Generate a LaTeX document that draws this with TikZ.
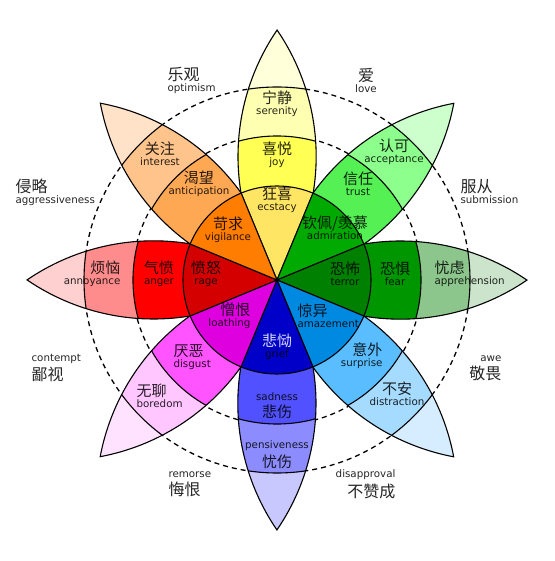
\documentclass[tikz,border=0pt]{standalone}
\usepackage{fontspec}
\setmainfont{DejaVu Sans}
\newfontfamily\zhfont{Noto Sans CJK SC}
\usepackage{tikz}
\usetikzlibrary{positioning}
% colours: tip, outer, middle, inner of each petal
\definecolor{joyA}{HTML}{FFFFD9}\definecolor{joyB}{HTML}{FFFFB1}
\definecolor{joyC}{HTML}{FFFF54}\definecolor{joyD}{HTML}{FFE564}
\definecolor{truA}{HTML}{CCFFCC}\definecolor{truB}{HTML}{8CFF8C}
\definecolor{truC}{HTML}{54F054}\definecolor{truD}{HTML}{00AA00}
\definecolor{feaA}{HTML}{CCE4CC}\definecolor{feaB}{HTML}{8CC68C}
\definecolor{feaC}{HTML}{009600}\definecolor{feaD}{HTML}{008000}
\definecolor{surA}{HTML}{D6EDFF}\definecolor{surB}{HTML}{A5DBFF}
\definecolor{surC}{HTML}{59BDFF}\definecolor{surD}{HTML}{0089E0}
\definecolor{sadA}{HTML}{C8C8FF}\definecolor{sadB}{HTML}{8C8CFF}
\definecolor{sadC}{HTML}{5151FF}\definecolor{sadD}{HTML}{0000C8}
\definecolor{disA}{HTML}{FFE2FF}\definecolor{disB}{HTML}{FFC6FF}
\definecolor{disC}{HTML}{FF54FF}\definecolor{disD}{HTML}{DE00DE}
\definecolor{angA}{HTML}{FFD0D0}\definecolor{angB}{HTML}{FF8C8C}
\definecolor{angC}{HTML}{FF0000}\definecolor{angD}{HTML}{D40000}
\definecolor{antA}{HTML}{FFE2C8}\definecolor{antB}{HTML}{FFC48C}
\definecolor{antC}{HTML}{FFA854}\definecolor{antD}{HTML}{FF7D00}
\tikzset{
  every picture/.style={line width=1.1pt},
  emo/.style={align=center, inner sep=0pt, text=black, text opacity=0.85,
              font=\fontsize{10.3}{11}\selectfont},
  emoL/.style={emo, align=left, anchor=west},
  emoR/.style={emo, align=right, anchor=east},
  mood/.style={inner sep=0pt, text=black!85, font=\fontsize{10.3}{11}\selectfont},
  ring/.style={dash pattern=on 5pt off 4pt, line width=1.3pt},
}
\newcommand{\zh}[1]{{\zhfont\fontsize{15}{15}\selectfont #1}}
\newcommand{\zhL}[1]{{\zhfont\fontsize{16}{16}\selectfont #1}}
% one petal, drawn upright and turned into place
\def\petalpath{(0,0) -- (112.5:94pt)
  arc[start angle=189.43, end angle=145.64, radius=224pt]
  arc[start angle=34.36, end angle=-9.43, radius=224pt] -- cycle}
\newcommand{\petal}[2]{%
  \begin{scope}[rotate=#1]
    \begin{scope}
      \clip \petalpath;
      \fill[#2A] (0,0) circle[radius=260pt];
      \fill[#2B] (0,0) circle[radius=193pt];
      \fill[#2C] (0,0) circle[radius=144pt];
      \fill[#2D] (0,0) circle[radius=94pt];
      \draw (0,0) circle[radius=193pt] (0,0) circle[radius=144pt]
            (0,0) circle[radius=94pt];
    \end{scope}
    \draw \petalpath;
  \end{scope}}

\begin{document}
\begin{tikzpicture}[x=1pt, y=1pt]
  \useasboundingbox (-277,-281) rectangle (277,280);
  \fill[white] (-277,-281) rectangle (277,280);
  \draw[ring] (0,0) circle[radius=145pt];
  \draw[ring] (0,0) circle[radius=193pt];

  \petal{0}{joy}
  \petal{-45}{tru}
  \petal{-90}{fea}
  \petal{-135}{sur}
  \petal{180}{sad}
  \petal{135}{dis}
  \petal{90}{ang}
  \petal{45}{ant}

  % joy
  \node[emo] (serenity) at (0,176) {\zh{宁静}\\serenity};
  \node[emo] (joy) at (0,125) {\zh{喜悦}\\joy};
  \node[emo] (ecstacy) at (0,80) {\zh{狂喜}\\ecstacy};
  % trust
  \node[emo] (acceptance) at (117,128) {\zh{认可}\\acceptance};
  \node[emo] (trust) at (81,96) {\zh{信任}\\trust};
  \node[emo] (admiration) at (58,52) {\zh{钦佩/羡慕}\\admiration};
  % fear
  \node[emo] (terror) at (68,6) {\zh{恐怖}\\terror};
  \node[emo] (fear) at (118,6) {\zh{恐惧}\\fear};
  \node[emoL] (apprehension) at (157,6) {\zh{忧虑}\\apprehension};
  % surprise
  \node[emoL] (amazement) at (20,-36) {\zh{惊异}\\amazement};
  \node[emoR] (surprise) at (106,-76) {\zh{意外}\\surprise};
  \node[emo] (distraction) at (120,-114) {\zh{不安}\\distraction};
  % sadness
  \node[emo] (grief) at (0,-67) {\textcolor{white}{\zh{悲恸}}\\grief};
  \node[emo] (sadness) at (0,-126) {sadness\\[3pt]\zh{悲伤}};
  \node[emo] (pensiveness) at (0,-175) {pensiveness\\[3pt]\zh{忧伤}};
  % disgust
  \node[emoR] (loathing) at (-26,-36) {\zh{憎恨}\\loathing};
  \node[emoL] (disgust) at (-104,-77) {\zh{厌恶}\\disgust};
  \node[emoL] (boredom) at (-141,-116) {\zh{无聊}\\boredom};
  % anger
  \node[emo] (rage) at (-71,6) {\zh{愤怒}\\rage};
  \node[emo] (anger) at (-118,6) {\zh{气愤}\\anger};
  \node[emoR] (annoyance) at (-156,6) {\zh{烦恼}\\annoyance};
  % anticipation
  \node[emo] (interest) at (-117,126) {\zh{关注}\\interest};
  \node[emo] (anticipation) at (-78,96) {\zh{渴望}\\anticipation};
  \node[emo] (vigilance) at (-49,50) {\zh{苛求}\\vigilance};

  % dyads
  \node[mood, align=left, anchor=west] (optimism) at (-110,200) {\zhL{乐观}\\optimism};
  \node[mood, align=center] (love) at (89,200) {\zhL{爱}\\love};
  \node[mood, align=left, anchor=west] (aggressiveness) at (-262,88) {\zhL{侵略}\\aggressiveness};
  \node[mood, align=left, anchor=west] (submission) at (183,88) {\zhL{服从}\\submission};
  \node[mood, align=left, anchor=west] (contempt) at (-246,-88) {contempt\\[3pt]\zhL{鄙视}};
  \node[mood, align=right, anchor=east] (awe) at (225,-88) {awe\\[3pt]\zhL{敬畏}};
  \node[mood, align=left, anchor=west] (remorse) at (-109,-204) {remorse\\[3pt]\zhL{悔恨}};
  \node[mood, align=right, anchor=east] (disapproval) at (119,-204) {disapproval\\[3pt]\zhL{不赞成}};
\end{tikzpicture}
\end{document}
